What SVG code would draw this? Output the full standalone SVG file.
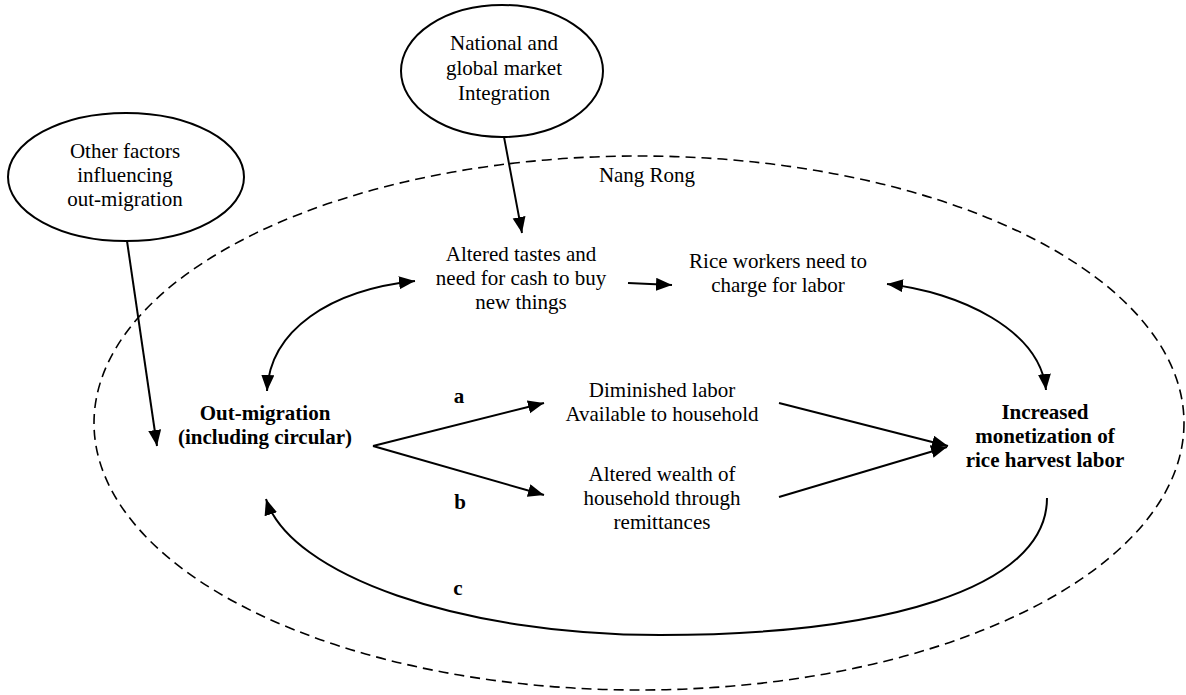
<svg xmlns="http://www.w3.org/2000/svg" width="1186" height="695" viewBox="0 0 1186 695">
<style>
text{font-family:"Liberation Serif","Times New Roman",serif;font-size:21px;fill:#000;text-anchor:middle}
.b{font-weight:bold}
.node{fill:#fff;stroke:#000;stroke-width:2}
.region{fill:none;stroke:#000;stroke-width:1.6;stroke-dasharray:10 6}
.edge{fill:none;stroke:#000;stroke-width:2}
</style>
<defs>
<marker id="ah" markerUnits="userSpaceOnUse" markerWidth="17" markerHeight="14" refX="16" refY="6.5" orient="auto-start-reverse" viewBox="0 0 17 14">
<path d="M0,0 L16,6.5 L0,13 z" fill="#000"/>
</marker>
</defs>
<rect width="1186" height="695" fill="#fff"/>
<g id="nang-rong">
<ellipse class="region" cx="639" cy="423" rx="545" ry="267"/>
<text x="647" y="182">Nang Rong</text>
</g>
<g id="other-factors">
<ellipse class="node" cx="126" cy="177" rx="118" ry="64"/>
<text x="125" y="158">Other factors</text>
<text x="125" y="182">influencing</text>
<text x="125" y="206">out-migration</text>
</g>
<g id="market">
<ellipse class="node" cx="502" cy="71" rx="101" ry="66"/>
<text x="504" y="50">National and</text>
<text x="504" y="75">global market</text>
<text x="504" y="100">Integration</text>
</g>
<g id="tastes">
<text x="521" y="261">Altered tastes and</text>
<text x="521" y="285">need for cash to buy</text>
<text x="521" y="309">new things</text>
</g>
<g id="rice-workers">
<text x="778" y="268">Rice workers need to</text>
<text x="778" y="292">charge for labor</text>
</g>
<g id="out-migration">
<text class="b" x="265" y="420">Out-migration</text>
<text class="b" x="265" y="444">(including circular)</text>
</g>
<g id="diminished">
<text x="662" y="397">Diminished labor</text>
<text x="662" y="421">Available to household</text>
</g>
<g id="wealth">
<text x="662" y="481">Altered wealth of</text>
<text x="662" y="505">household through</text>
<text x="662" y="529">remittances</text>
</g>
<g id="monetization">
<text class="b" x="1045" y="419">Increased</text>
<text class="b" x="1045" y="443">monetization of</text>
<text class="b" x="1045" y="467">rice harvest labor</text>
</g>
<g id="connectors">
<line class="edge" x1="504" y1="137" x2="522" y2="233" marker-end="url(#ah)"/>
<line class="edge" x1="127" y1="241" x2="157" y2="446" marker-end="url(#ah)"/>
<line class="edge" x1="628" y1="283" x2="672" y2="285" marker-end="url(#ah)"/>
<path class="edge" d="M267,391 C270,330 330,290 415,281" marker-start="url(#ah)" marker-end="url(#ah)"/>
<path class="edge" d="M887,284 C960,292 1040,330 1046,390" marker-start="url(#ah)" marker-end="url(#ah)"/>
<line class="edge" x1="373" y1="446" x2="544" y2="403" marker-end="url(#ah)"/>
<line class="edge" x1="373" y1="446" x2="544" y2="495" marker-end="url(#ah)"/>
<line class="edge" x1="779" y1="403" x2="948" y2="446" marker-end="url(#ah)"/>
<line class="edge" x1="779" y1="497" x2="947" y2="447" marker-end="url(#ah)"/>
<path class="edge" d="M1047,498 C1047,590 880,635 660,635 C460,635 290,575 266,499" marker-end="url(#ah)"/>
<text class="b" x="459" y="403">a</text>
<text class="b" x="460" y="509">b</text>
<text class="b" x="458" y="595">c</text>
</g>
</svg>
